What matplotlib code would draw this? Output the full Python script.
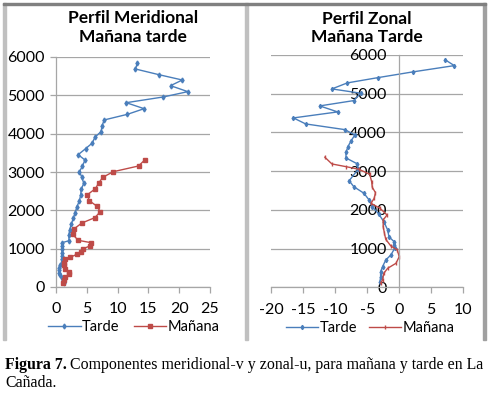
import numpy as np
import matplotlib.pyplot as plt
from matplotlib.patches import Rectangle

# ---------------------------------------------------------------------------
# Perfil meridional (v) : altura (m) vs componente
mer_tarde_alt = [5836, 5687, 5539, 5400, 5252, 5096, 4957, 4808, 4652, 4505,
                 4357, 4208, 4052, 3905, 3757, 3608, 3452, 3313, 3157, 3008,
                 2862, 2705, 2549, 2400, 2252, 2095, 1938, 1792, 1644, 1487,
                 1349, 1208, 1156, 1070, 984, 895, 809, 723, 634, 566,
                 504, 443, 374, 305, 243, 165, 113]
mer_tarde_v = [13.2, 12.9, 16.7, 20.5, 18.6, 21.4, 17.4, 11.4, 14.3, 11.6,
               7.8, 7.5, 7.3, 6.3, 5.9, 4.8, 3.6, 4.7, 4.3, 3.8,
               4.2, 4.5, 4.1, 4.0, 3.8, 3.4, 3.1, 2.8, 2.5, 2.2,
               2.1, 2.1, 1.0, 1.0, 1.0, 1.0, 1.0, 0.9, 0.9, 0.65,
               0.5, 0.45, 0.5, 0.7, 1.0, 1.2, 1.3]

mer_manana_alt = [3313, 3157, 3008, 2862, 2705, 2565, 2408, 2252, 2113, 1965,
                  1808, 1670, 1513, 1375, 1218, 1156, 1070, 999, 921, 853,
                  775, 723, 634, 574, 478, 400, 331, 253, 183, 113]
mer_manana_v = [14.4, 13.4, 9.3, 7.6, 6.9, 6.4, 5.1, 5.4, 6.6, 7.2,
                6.3, 4.2, 2.9, 2.7, 3.6, 5.7, 5.5, 4.4, 4.0, 3.4,
                2.3, 1.5, 1.3, 1.3, 1.5, 2.1, 2.1, 1.5, 1.3, 1.2]

# Perfil zonal (u)
zon_tarde_alt = [5873, 5726, 5563, 5416, 5279, 5124, 5013, 4822, 4685, 4530,
                 4375, 4220, 4073, 3935, 3788, 3633, 3488, 3341, 3194, 3049,
                 2755, 2600, 2429, 2256, 2083, 1894, 1695, 1481, 1307, 1178,
                 1093, 1008, 835, 705, 532, 403, 274, 145]
zon_tarde_u = [7.2, 8.6, 2.1, -3.3, -8.1, -10.5, -6.0, -7.1, -12.4, -9.6,
               -16.5, -14.6, -8.5, -6.9, -7.5, -8.0, -8.3, -8.3, -6.6, -6.4,
               -7.8, -7.1, -5.5, -4.7, -4.2, -3.2, -2.4, -1.8, -1.6, -0.8,
               -0.8, -0.7, -1.3, -2.1, -2.6, -2.9, -2.9, -3.0]

zon_manana_alt = [3360, 3186, 3116, 3049, 2920, 2729, 2584, 2444, 2300, 2170,
                  2041, 1868, 1739, 1566, 1395, 1240, 1067, 964, 791, 620,
                  491, 362, 189, 103]
zon_manana_u = [-11.6, -10.5, -8.3, -6.3, -4.6, -4.3, -4.2, -3.7, -3.9, -4.4,
                -3.0, -1.9, -2.5, -2.5, -2.3, -2.1, -1.3, -0.3, 0.0, -0.5,
                -1.8, -2.4, -2.6, -2.9]

blue = '#4a7ebb'
red = '#be4b48'
grid_c = '#a6a6a6'

plt.rcParams['font.family'] = ['Lato', 'DejaVu Sans']
plt.rcParams['axes.unicode_minus'] = False

W, H = 489, 395
fig = plt.figure(figsize=(W / 100, H / 100), dpi=100)


def fx(px):
    return px / W


def fy(py):
    return 1 - py / H


# chart frames (excel style)
fig.patches.append(Rectangle((fx(3), fy(340)), fx(3), fy(3) - fy(340), transform=fig.transFigure,
                             color='#c0c0c0', zorder=0))
fig.patches.append(Rectangle((fx(245), fy(340)), fx(3), fy(3) - fy(340), transform=fig.transFigure,
                             color='#c0c0c0', zorder=0))
fig.patches.append(Rectangle((fx(483), fy(340)), fx(3), fy(3) - fy(340), transform=fig.transFigure,
                             color='#a0a0a0', zorder=0))
fig.patches.append(Rectangle((fx(3), fy(5)), fx(483), fy(3) - fy(5), transform=fig.transFigure,
                             color='#808080', zorder=0))


def style_axes(ax):
    ax.grid(axis='y', color=grid_c, linewidth=0.9)
    ax.set_axisbelow(True)
    for s in ['top', 'right']:
        ax.spines[s].set_visible(False)
    for s in ['left', 'bottom']:
        ax.spines[s].set_color(grid_c)
        ax.spines[s].set_linewidth(0.9)
    ax.tick_params(colors=grid_c, labelcolor='black', labelsize=11.5, length=4, width=0.9)
    ax.set_ylim(0, 6000)
    ax.set_yticks(np.arange(0, 6001, 1000))


# ---------------------------------------------------------------------------
# Left: meridional
ax1 = fig.add_axes([fx(56), fy(287), fx(210) - fx(56), fy(57) - fy(287)])
style_axes(ax1)
ax1.set_xlim(0, 25)
ax1.set_xticks(np.arange(0, 26, 5))
ax1.tick_params(axis='x', pad=7)
ax1.tick_params(axis='y', pad=4)
ax1.plot(mer_tarde_v, mer_tarde_alt, color=blue, lw=1.0, marker='d', ms=2.5, label='Tarde')
ax1.plot(mer_manana_v, mer_manana_alt, color=red, lw=1.0, marker='s', ms=3.5, label='Mañana')
ax1.set_title('Perfil Meridional\nMañana tarde', fontsize=12.5, fontweight='bold', pad=11,
              linespacing=1.2)
ax1.legend(loc='center', bbox_to_anchor=(fx(134), fy(327)), bbox_transform=fig.transFigure,
           ncol=2, frameon=False, fontsize=10.5, handlelength=2.2, columnspacing=1.0,
           handletextpad=0.1, borderaxespad=0, borderpad=0)

# Right: zonal
ax2 = fig.add_axes([fx(271), fy(287.3), fx(463.3) - fx(271), fy(55) - fy(287.3)])
style_axes(ax2)
ax2.set_xlim(-20, 10)
ax2.set_xticks(np.arange(-20, 11, 5))
ax2.spines['left'].set_position(('data', 0))
ax2.tick_params(axis='x', pad=7)
ax2.tick_params(axis='y', pad=9, length=0)
ax2.plot(zon_tarde_u, zon_tarde_alt, color=blue, lw=1.0, marker='d', ms=2.2, label='Tarde')
ax2.plot(zon_manana_u, zon_manana_alt, color=red, lw=1.0, marker='|', ms=2.5, label='Mañana')
ax2.set_title('Perfil Zonal\nMañana Tarde', fontsize=12.5, fontweight='bold', pad=9,
              linespacing=1.2)
ax2.legend(loc='center', bbox_to_anchor=(fx(370), fy(328)), bbox_transform=fig.transFigure,
           ncol=2, frameon=False, fontsize=10.5, handlelength=2.2, columnspacing=0.8,
           handletextpad=0.1, borderaxespad=0, borderpad=0)

# caption: bold prefix followed by regular text
cap_size = 11.4
t_bold = fig.text(fx(5), fy(365), 'Figura 7.', fontsize=cap_size, fontweight='bold',
                  family='Liberation Serif', va='center', ha='left')
renderer = fig.canvas.get_renderer()
bb = t_bold.get_window_extent(renderer=renderer)
x_next = (bb.x1 + 3) / fig.bbox.width
fig.text(x_next, fy(365), 'Componentes meridional-v y zonal-u, para mañana y tarde en La',
         fontsize=cap_size, family='Liberation Serif', va='center', ha='left')
fig.text(fx(5), fy(383), 'Cañada.', fontsize=cap_size, family='Liberation Serif',
         va='center', ha='left')

fig.savefig('out.png', dpi=100)
